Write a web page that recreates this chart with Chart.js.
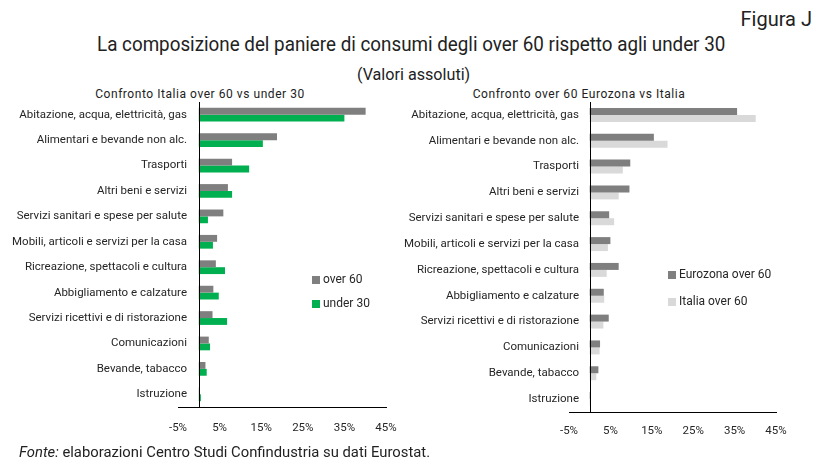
<!DOCTYPE html>
<html>
<head>
<meta charset="utf-8">
<script src="https://cdn.jsdelivr.net/npm/chart.js@4/dist/chart.umd.min.js"></script>
<style>
    body { margin: 0; background: #fff; }
    #wrap { position: relative; width: 819px; height: 469px; background: #fff; font-family: Roboto, sans-serif; color: #222; overflow: hidden; }
    #wrap canvas { position: absolute; left: 0; top: 0; }
    .txt { position: absolute; white-space: nowrap; line-height: 1; }
    .figura { right: 7px; top: 9px; font-size: 20px; }
    .title { left: 0; width: 823px; text-align: center; top: 34px; font-size: 20px; }
    .title span { display: inline-block; transform: scaleX(0.94); }
    .sub { left: 0; width: 828px; text-align: center; top: 66px; font-size: 17px; }
    .sub span { display: inline-block; transform: scaleX(0.95); }
    .chart-title { top: 88px; font-size: 12px; letter-spacing: 0.55px; transform: translateX(-50%); }
    .fonte { left: 19px; top: 445px; font-size: 14.8px; }
</style>
</head>
<body>
<div id="wrap">
    <div class="txt figura">Figura J</div>
    <div class="txt title"><span>La composizione del paniere di consumi degli over 60 rispetto agli under 30</span></div>
    <div class="txt sub"><span>(Valori assoluti)</span></div>
    <div class="txt chart-title" style="left:200px">Confronto Italia over 60 vs under 30</div>
    <div class="txt chart-title" style="left:579px">Confronto over 60 Eurozona vs Italia</div>
    <canvas id="chartLeft" width="819" height="469"></canvas>
    <canvas id="chartRight" width="819" height="469"></canvas>
    <div class="txt fonte"><i>Fonte:</i> elaborazioni Centro Studi Confindustria su dati Eurostat.</div>
</div>
<script>
// Categories and values (% of consumption basket)
const categories = [
    'Abitazione, acqua, elettricità, gas',
    'Alimentari e bevande non alc.',
    'Trasporti',
    'Altri beni e servizi',
    'Servizi sanitari e spese per salute',
    'Mobili, articoli e servizi per la casa',
    'Ricreazione, spettacoli e cultura',
    'Abbigliamento e calzature',
    'Servizi ricettivi e di ristorazione',
    'Comunicazioni',
    'Bevande, tabacco',
    'Istruzione'
];
const italiaOver60   = [40.1, 18.8, 8.0, 7.0, 5.9, 4.4, 4.1, 3.5, 3.3, 2.4, 1.6, 0.2];
const italiaUnder30  = [35.0, 15.4, 12.1, 8.0, 2.2, 3.4, 6.3, 4.8, 6.8, 2.7, 1.9, 0.5];
const eurozonaOver60 = [35.6, 15.5, 9.8, 9.6, 4.7, 5.0, 7.0, 3.4, 4.6, 2.5, 2.1, 0.3];

const X_MIN = -5, X_MAX = 45, X_STEP = 10;

const COLORS = {
    gray: '#7f7f7f',
    green: '#00b050',
    light: '#d9d9d9',
    text: '#262626'
};

const LABEL_FONT_SIZE = 11.5;

// widest category label, so the mirrored labels can end just right of the plot edge
function widestLabel() {
    const c = document.createElement('canvas').getContext('2d');
    c.font = LABEL_FONT_SIZE + 'px Roboto';
    return Math.max(...categories.map(t => c.measureText(t).width));
}

// vertical line at 0 instead of the y axis border
const zeroLine = {
    id: 'zeroLine',
    afterDatasetsDraw(chart) {
        const ctx = chart.ctx;
        const x = Math.round(chart.scales.x.getPixelForValue(0)) + 0.5;
        ctx.save();
        ctx.strokeStyle = '#000';
        ctx.lineWidth = 1;
        ctx.beginPath();
        ctx.moveTo(x, chart.chartArea.top);
        ctx.lineTo(x, chart.chartArea.bottom);
        ctx.stroke();
        ctx.restore();
    }
};

// small legend drawn inside the plot
const boxLegend = {
    id: 'boxLegend',
    afterDraw(chart, args, opts) {
        const ctx = chart.ctx;
        ctx.save();
        ctx.font = '12px Roboto';
        ctx.textBaseline = 'middle';
        chart.data.datasets.forEach((ds, i) => {
            const y = opts.y + i * opts.gap;
            ctx.fillStyle = ds.backgroundColor;
            ctx.fillRect(opts.x, y - 4, 8, 8);
            ctx.fillStyle = COLORS.text;
            ctx.fillText(ds.label, opts.x + 11, y);
        });
        ctx.restore();
    }
};

function makeChart(canvasId, cfg) {
    const ctx = document.getElementById(canvasId);
    const widest = widestLabel();
    return new Chart(ctx, {
        type: 'bar',
        data: {
            labels: categories,
            datasets: cfg.datasets
        },
        options: {
            responsive: false,
            animation: false,
            indexAxis: 'y',
            layout: { padding: { left: 0, top: cfg.top, right: cfg.right, bottom: 0 } },
            datasets: { bar: { categoryPercentage: 0.54, barPercentage: 1.0, borderWidth: 0 } },
            plugins: {
                legend: { display: false },
                tooltip: { enabled: false },
                boxLegend: cfg.legend
            },
            scales: {
                x: {
                    min: X_MIN,
                    max: X_MAX,
                    grid: { display: false, drawTicks: false },
                    border: { display: true, color: '#000', width: 1 },
                    ticks: {
                        stepSize: X_STEP,
                        padding: cfg.xPad,
                        color: COLORS.text,
                        font: { family: 'Roboto', size: 11.5 },
                        callback: v => v + '%'
                    },
                    afterFit: s => { s.height = cfg.xHeight; }
                },
                y: {
                    grid: { display: false, drawTicks: false },
                    border: { display: false },
                    ticks: {
                        // mirrored labels are not clipped to the axis box
                        mirror: true,
                        crossAlign: 'far',
                        padding: cfg.labelOverlap - widest,
                        color: COLORS.text,
                        autoSkip: false,
                        font: { family: 'Roboto', size: LABEL_FONT_SIZE }
                    },
                    afterFit: s => { s.width = cfg.yWidth; }
                }
            }
        },
        plugins: [zeroLine, boxLegend]
    });
}

makeChart('chartLeft', {
    datasets: [
        { label: 'over 60', data: italiaOver60, backgroundColor: COLORS.gray },
        { label: 'under 30', data: italiaUnder30, backgroundColor: COLORS.green }
    ],
    top: 102, right: 819 - 386, yWidth: 178, labelOverlap: 9, xHeight: 62, xPad: 14,
    legend: { x: 312, y: 280, gap: 24 }
});

makeChart('chartRight', {
    datasets: [
        { label: 'Eurozona over 60', data: eurozonaOver60, backgroundColor: COLORS.gray },
        { label: 'Italia over 60', data: italiaOver60, backgroundColor: COLORS.light }
    ],
    top: 102, right: 819 - 776, yWidth: 569, labelOverlap: 10, xHeight: 57, xPad: 12,
    legend: { x: 668, y: 275, gap: 27 }
});
</script>
</body>
</html>
